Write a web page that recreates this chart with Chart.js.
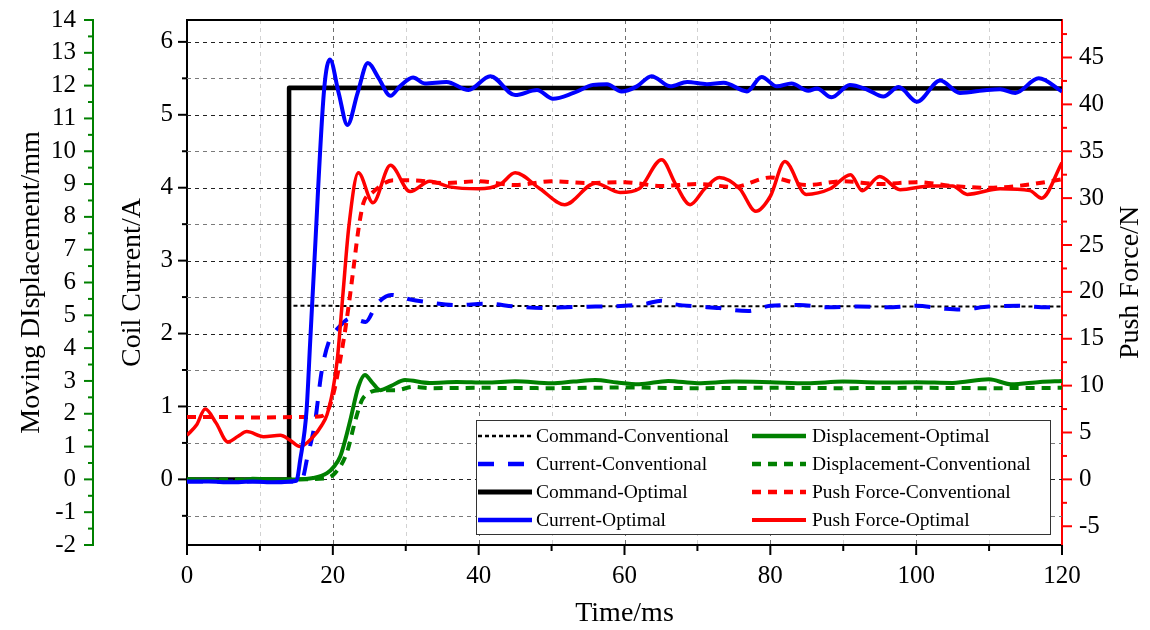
<!DOCTYPE html>
<html><head><meta charset="utf-8">
<script src="https://cdn.jsdelivr.net/npm/chart.js@4.4.1/dist/chart.umd.min.js"></script>
<style>html,body{margin:0;padding:0;background:#fff;}</style>
</head><body>
<canvas id="c" width="1150" height="630"></canvas>
<script>
// ---- tick values / labels ----
const xTickValues = [0,10,20,30,40,50,60,70,80,90,100,110,120];
const xLabelValues = [0,20,40,60,80,100,120];
const currentTickValues = [-0.5,0,0.5,1,1.5,2,2.5,3,3.5,4,4.5,5,5.5,6];
const currentLabelValues = [0,1,2,3,4,5,6];
const dispTickValues = [-2,-1.5,-1,-0.5,0,0.5,1,1.5,2,2.5,3,3.5,4,4.5,5,5.5,6,6.5,7,7.5,8,8.5,9,9.5,10,10.5,11,11.5,12,12.5,13,13.5,14];
const dispLabelValues = [-2,-1,0,1,2,3,4,5,6,7,8,9,10,11,12,13,14];
const forceTickValues = [-5,-2.5,0,2.5,5,7.5,10,12.5,15,17.5,20,22.5,25,27.5,30,32.5,35,37.5,40,42.5,45,47.5];
const forceLabelValues = [-5,0,5,10,15,20,25,30,35,40,45];

// ---- series (time in ms) ----
const cmdConvT = [0,14,14,120];
const cmdConvV = [0,0,2.38,2.37];
const cmdOptT = [0,14,14,120];
const cmdOptV = [0,0,5.37,5.36];

const curOptT = [0,3,6,9,12,15,15.5,16.4,16.9,17.4,18.8,19.6,20.8,22.0,23.4,24.8,26.3,27.9,29.2,31.0,32.6,35.6,38.6,41.6,45.0,48.0,50.2,53.0,55.7,57.6,59.6,61.7,63.7,66.3,68.6,71.3,73.6,76.8,78.8,80.9,82.9,85.2,86.4,88.4,90.9,93.2,95.5,97.6,100.1,103.3,106.0,109.7,111.5,113.6,116.8,120];
const curOptV = [-0.03,-0.03,-0.04,-0.03,-0.04,-0.02,0.25,0.95,1.9,2.85,5.34,5.76,5.3,4.86,5.3,5.71,5.5,5.26,5.39,5.51,5.43,5.45,5.34,5.53,5.27,5.34,5.22,5.30,5.41,5.42,5.32,5.39,5.53,5.39,5.45,5.42,5.44,5.32,5.52,5.39,5.43,5.33,5.36,5.24,5.41,5.35,5.25,5.38,5.18,5.47,5.30,5.34,5.35,5.30,5.50,5.32];

const curConvT = [0,5,10,15,15.8,16.5,17.5,18.5,19.5,20.5,22.5,24.5,26,28,30.5,33,37,41,45,49,52,56,60,63,65,67,70,73,75,77,80,84,88,92,96,100,104,106,110,114,118,120];
const curConvV = [-0.03,-0.03,-0.03,-0.03,0.0,0.3,0.75,1.5,1.9,2.05,2.21,2.16,2.4,2.53,2.47,2.43,2.39,2.41,2.37,2.35,2.36,2.37,2.38,2.41,2.45,2.4,2.37,2.35,2.32,2.31,2.38,2.39,2.36,2.37,2.36,2.38,2.34,2.33,2.37,2.38,2.36,2.37];

const forceOptT = [0,1.3,2.5,4,5.6,7,8.2,10.5,12.8,14.1,15.5,17.3,18.5,19.2,20,20.6,21.4,22.2,23.5,25.5,27.9,30.6,33.3,36,40,43,45,48.4,51.8,56,59.4,62,65.1,67,69,71,73,75.8,78,80,82,84.9,88.2,91,92.6,95,97.8,102,105,107,111.5,115.6,117.2,120];
const forceOptV = [4.7,5.8,7.5,6.0,4.0,4.6,5.1,4.55,4.7,4.2,3.5,4.55,5.8,6.9,9.5,12.7,19.9,27,32.7,29.5,33.5,30.7,31.8,31.2,31.0,31.5,32.7,31.0,29.3,31.6,30.6,31.0,34.1,31.5,29.3,31.0,32.2,31.0,28.6,30.2,33.9,30.4,31.0,32.5,30.8,32.3,30.9,31.3,31.3,30.4,31.0,30.8,30.0,33.8];

const forceConvT = [0,5,10,15,18,19.2,20.1,21,21.9,22.8,23.5,24.2,25.3,28.3,31,35,40,45,50,55,60,65,70,75,80,85,90,95,100,105,110,115,120];
const forceConvV = [6.65,6.65,6.6,6.65,6.7,7.2,9.2,12.7,17.0,22.3,26.6,29.5,30.5,31.9,31.9,31.6,31.8,31.4,31.8,31.6,31.7,31.3,31.5,31.2,32.2,31.4,31.8,31.5,31.7,31.3,31.1,31.4,32.0];

const dispOptT = [0,3,6,9,12,15,17.3,19.2,20.2,21,21.7,22.4,23.5,24.4,25.4,26.5,28,29.9,33.3,37,41,45,50,53,56,59,62,66,70,75,80,85,90,95,100,105,110,113,117,120];
const dispOptV = [0,0,-0.08,0.02,0,0,0.04,0.19,0.4,0.69,1.2,1.81,2.82,3.18,2.95,2.72,2.85,3.03,2.94,2.97,2.95,2.99,2.93,2.98,3.03,2.95,2.9,3.0,2.93,2.98,2.96,2.93,2.98,2.95,2.96,2.94,3.05,2.9,2.97,3.0];

const dispConvT = [0,5,10,15,19,20.3,21.9,23.1,24,24.9,26.5,28.7,31,33.3,40,50,60,70,80,90,100,110,120];
const dispConvV = [0,0,0,0,0.03,0.19,0.8,1.81,2.42,2.63,2.72,2.72,2.82,2.78,2.79,2.78,2.8,2.78,2.79,2.78,2.79,2.78,2.79];

const seriesLabels = ['Command-Conventional','Current-Conventional','Command-Optimal','Current-Optimal','Displacement-Optimal','Displacement-Conventional','Push Force-Conventional','Push Force-Optimal'];

function pts(t, v) { return t.map((x, i) => ({x: x, y: v[i]})); }

Chart.defaults.font.family = '"Liberation Serif", "Times New Roman", serif';
Chart.defaults.color = '#000';

const BLUE = '#0000ff', RED = '#ff0000', GREEN = '#008000', BLACK = '#000000';

const datasets = [
  {label: seriesLabels[0], data: pts(cmdConvT, cmdConvV), yAxisID: 'y', borderColor: BLACK, borderWidth: 2, borderDash: [4,3], tension: 0, order: 7},
  {label: seriesLabels[1], data: pts(curConvT, curConvV), yAxisID: 'y', borderColor: BLUE, borderWidth: 4, borderDash: [16,14], cubicInterpolationMode: 'monotone', order: 5},
  {label: seriesLabels[2], data: pts(cmdOptT, cmdOptV), yAxisID: 'y', borderColor: BLACK, borderWidth: 4.5, tension: 0, order: 6},
  {label: seriesLabels[3], data: pts(curOptT, curOptV), yAxisID: 'y', borderColor: BLUE, borderWidth: 4, cubicInterpolationMode: 'monotone', order: 0},
  {label: seriesLabels[4], data: pts(dispOptT, dispOptV), yAxisID: 'yD', borderColor: GREEN, borderWidth: 4, cubicInterpolationMode: 'monotone', order: 1},
  {label: seriesLabels[5], data: pts(dispConvT, dispConvV), yAxisID: 'yD', borderColor: GREEN, borderWidth: 4, borderDash: [9,7], cubicInterpolationMode: 'monotone', order: 4},
  {label: seriesLabels[6], data: pts(forceConvT, forceConvV), yAxisID: 'yF', borderColor: RED, borderWidth: 4, borderDash: [9,7], cubicInterpolationMode: 'monotone', order: 3},
  {label: seriesLabels[7], data: pts(forceOptT, forceOptV), yAxisID: 'yF', borderColor: RED, borderWidth: 3.5, cubicInterpolationMode: 'monotone', order: 2}
];
datasets.forEach(d => { d.pointRadius = 0; d.fill = false; d.backgroundColor = d.borderColor; });

function setTicks(values) { return s => { s.ticks = values.map(v => ({value: v})); }; }
function labelCb(values) { return v => values.includes(v) ? String(v) : ''; }
function fitW(w) { return s => { s.width = w; s.paddingTop = 0; s.paddingBottom = 0; }; }
function fitH(h) { return s => { s.height = h; s.paddingLeft = 0; s.paddingRight = 0; }; }

const deco = {
  id: 'deco',
  beforeDatasetsDraw(chart) {
    const {ctx, chartArea: a, scales} = chart;
    ctx.save();
    ctx.lineWidth = 1;
    ctx.setLineDash([4,4]);
    for (const v of xTickValues) {
      if (v <= 0 || v >= 120) continue;
      const px = Math.round(scales.x.getPixelForValue(v)) + 0.5;
      ctx.strokeStyle = (v % 20 === 0) ? '#6e6e6e' : '#d2d2d2';
      ctx.beginPath(); ctx.moveTo(px, a.top); ctx.lineTo(px, a.bottom); ctx.stroke();
    }
    for (const v of currentTickValues) {
      const py = Math.round(scales.y.getPixelForValue(v)) + 0.5;
      ctx.strokeStyle = Number.isInteger(v) ? '#222222' : '#7a7a7a';
      ctx.beginPath(); ctx.moveTo(a.left, py); ctx.lineTo(a.right, py); ctx.stroke();
    }
    ctx.restore();
  },
  afterDatasetsDraw(chart) {
    const {ctx, chartArea: a, scales} = chart;
    ctx.save();
    // top frame
    ctx.strokeStyle = BLACK; ctx.lineWidth = 2;
    ctx.beginPath(); ctx.moveTo(a.left - 1, a.top); ctx.lineTo(a.right, a.top); ctx.stroke();
    // x tick marks
    ctx.lineWidth = 2;
    for (const v of xTickValues) {
      const px = scales.x.getPixelForValue(v);
      const L = xLabelValues.includes(v) ? 10 : 6;
      ctx.beginPath(); ctx.moveTo(px, a.bottom); ctx.lineTo(px, a.bottom + L); ctx.stroke();
    }
    // left current ticks
    for (const v of currentTickValues) {
      const py = scales.y.getPixelForValue(v);
      const L = currentLabelValues.includes(v) ? 9 : 5;
      ctx.beginPath(); ctx.moveTo(a.left, py); ctx.lineTo(a.left - L, py); ctx.stroke();
    }
    // displacement ticks
    ctx.strokeStyle = GREEN;
    const dx = scales.yD.right;
    for (const v of dispTickValues) {
      const py = scales.yD.getPixelForValue(v);
      const L = dispLabelValues.includes(v) ? 9 : 5;
      ctx.beginPath(); ctx.moveTo(dx, py); ctx.lineTo(dx - L, py); ctx.stroke();
    }
    // force ticks
    ctx.strokeStyle = RED;
    for (const v of forceTickValues) {
      const py = scales.yF.getPixelForValue(v);
      const L = forceLabelValues.includes(v) ? 10 : 5;
      ctx.beginPath(); ctx.moveTo(a.right, py); ctx.lineTo(a.right + L, py); ctx.stroke();
    }
    // right axis title (reads bottom-to-top)
    ctx.fillStyle = BLACK;
    ctx.font = '28px "Liberation Serif"';
    ctx.textAlign = 'center'; ctx.textBaseline = 'middle';
    ctx.translate(1131, (a.top + a.bottom) / 2);
    ctx.rotate(-Math.PI / 2);
    ctx.fillText('Push Force/N', 0, 0);
    ctx.restore();

    // legend
    ctx.save();
    const bx = 476, by = 420, bw = 574, bh = 114;
    ctx.fillStyle = '#fff';
    ctx.fillRect(bx, by, bw, bh);
    ctx.strokeStyle = '#333'; ctx.lineWidth = 1; ctx.setLineDash([]);
    ctx.strokeRect(bx + 0.5, by + 0.5, bw, bh);
    const rows = [436, 464, 492, 520];
    const cols = [{s0: 478, s1: 532, tx: 536}, {s0: 752, s1: 806, tx: 812}];
    const layout = [[0,0],[1,0],[2,0],[3,0],[4,1],[5,1],[6,1],[7,1]];
    ctx.font = '19.5px "Liberation Serif"';
    ctx.textAlign = 'left'; ctx.textBaseline = 'middle';
    layout.forEach(([di, col], k) => {
      const d = chart.data.datasets[di];
      const y = rows[k % 4];
      const c = cols[col];
      ctx.strokeStyle = d.borderColor;
      ctx.lineWidth = d.borderWidth + 0.5;
      ctx.setLineDash(d.borderDash || []);
      ctx.beginPath(); ctx.moveTo(c.s0, y); ctx.lineTo(c.s1, y); ctx.stroke();
      ctx.setLineDash([]);
      ctx.fillStyle = '#000';
      ctx.fillText(d.label, c.tx, y + 1);
    });
    ctx.restore();
  }
};

new Chart(document.getElementById('c'), {
  type: 'line',
  data: {datasets: datasets},
  options: {
    responsive: false,
    devicePixelRatio: 1,
    animation: false,
    layout: {padding: {top: 20, left: 0, right: 0, bottom: 0}},
    plugins: {legend: {display: false}, tooltip: {enabled: false}},
    elements: {line: {borderCapStyle: 'butt', borderJoinStyle: 'round'}},
    scales: {
      x: {
        type: 'linear', position: 'bottom', min: 0, max: 120,
        afterBuildTicks: setTicks(xTickValues),
        afterFit: fitH(85),
        grid: {display: false, drawTicks: false},
        border: {display: true, color: BLACK, width: 2},
        ticks: {autoSkip: false, maxRotation: 0, padding: 16, color: BLACK, font: {size: 25}, callback: labelCb(xLabelValues)},
        title: {display: true, text: 'Time/ms', color: BLACK, font: {size: 28}, padding: {top: 0, bottom: 0}}
      },
      y: {
        type: 'linear', position: 'left', min: -0.9, max: 6.3, weight: 0,
        afterBuildTicks: setTicks(currentTickValues),
        afterFit: fitW(94),
        grid: {display: false, drawTicks: false},
        border: {display: true, color: BLACK, width: 2},
        ticks: {autoSkip: false, padding: 14, color: BLACK, font: {size: 25}, callback: labelCb(currentLabelValues)},
        title: {display: true, text: 'Coil Current/A', color: BLACK, font: {size: 28}, padding: {top: 23, bottom: 0}}
      },
      yD: {
        type: 'linear', position: 'left', min: -2, max: 14, weight: 1,
        afterBuildTicks: setTicks(dispTickValues),
        afterFit: fitW(93),
        grid: {display: false, drawTicks: false},
        border: {display: true, color: GREEN, width: 2},
        ticks: {autoSkip: false, padding: 17, color: BLACK, font: {size: 25}, callback: labelCb(dispLabelValues)},
        title: {display: true, text: 'Moving DIsplacement/mm', color: BLACK, font: {size: 28}, padding: {top: 15, bottom: 0}}
      },
      yF: {
        type: 'linear', position: 'right', min: -7, max: 49,
        afterBuildTicks: setTicks(forceTickValues),
        afterFit: fitW(88),
        grid: {display: false, drawTicks: false},
        border: {display: true, color: RED, width: 2},
        ticks: {autoSkip: false, padding: 17, color: BLACK, font: {size: 25}, callback: labelCb(forceLabelValues)},
        title: {display: false}
      }
    }
  },
  plugins: [deco]
});
</script>
</body></html>
